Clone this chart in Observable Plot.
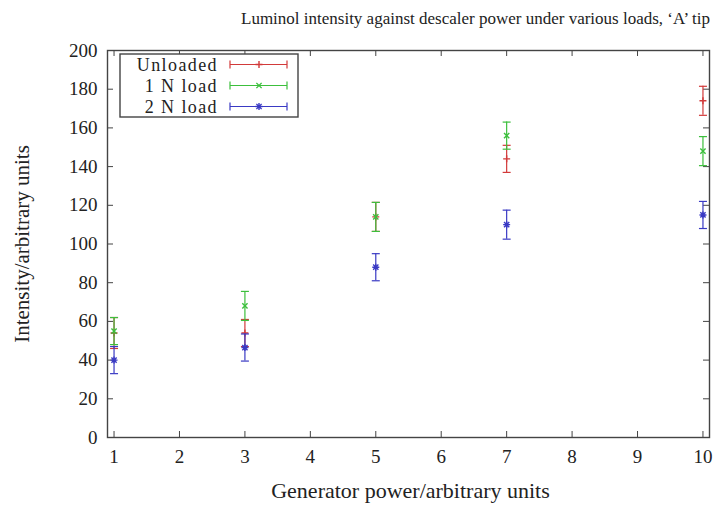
<!DOCTYPE html>
<html>
<head>
<meta charset="utf-8">
<script src="https://cdn.jsdelivr.net/npm/d3@7"></script>
<script src="https://cdn.jsdelivr.net/npm/@observablehq/plot@0.6"></script>
<style>
  html, body { margin: 0; padding: 0; background: #fff; }
</style>
</head>
<body>
<div id="chart"></div>
<script>
// ---- data ----
const powers = [1, 3, 5, 7, 10];
const seriesNames = ["Unloaded", "1 N load", "2 N load"];
const unloaded    = [54, 54, 114, 144, 174];
const unloadedErr = [8, 7, 7.5, 7, 7.5];
const load1       = [55, 68, 114, 156, 148];
const load1Err    = [7, 7.5, 7.5, 7, 7.5];
const load2       = [40, 46.5, 88, 110, 115];
const load2Err    = [7, 7, 7, 7.5, 7];
const xTicks = [1, 2, 3, 4, 5, 6, 7, 8, 9, 10];
const yTicks = [0, 20, 40, 60, 80, 100, 120, 140, 160, 180, 200];
const titleText = "Luminol intensity against descaler power under various loads, \u2018A\u2019 tip";
const xLabel = "Generator power/arbitrary units";
const yLabel = "Intensity/arbitrary units";

const colors = ["#d23a3a", "#3cbf3c", "#3a3ac4"];
const FONT = "'Liberation Serif', serif";

// ---- symbols ----
const capSym = {draw(ctx, size) { const r = Math.sqrt(size / Math.PI); ctx.moveTo(-r, 0); ctx.lineTo(r, 0); }};
const plusSym = {draw(ctx, size) { const r = Math.sqrt(size / Math.PI); ctx.moveTo(-r, 0); ctx.lineTo(r, 0); ctx.moveTo(0, -r); ctx.lineTo(0, r); }};
const timesSym = {draw(ctx, size) { const r = Math.sqrt(size / Math.PI) * 0.75; ctx.moveTo(-r, -r); ctx.lineTo(r, r); ctx.moveTo(-r, r); ctx.lineTo(r, -r); }};
const starSym = {draw(ctx, size) { const r = Math.sqrt(size / Math.PI); const q = r * 0.75;
  ctx.moveTo(-r, 0); ctx.lineTo(r, 0); ctx.moveTo(0, -r); ctx.lineTo(0, r);
  ctx.moveTo(-q, -q); ctx.lineTo(q, q); ctx.moveTo(-q, q); ctx.lineTo(q, -q); }};
const markerSyms = [plusSym, timesSym, starSym];

const vals = [unloaded, load1, load2];
const errs = [unloadedErr, load1Err, load2Err];
const rows = seriesNames.flatMap((s, i) => powers.map((p, j) => ({
  series: s, idx: i, x: p, y: vals[i][j], lo: vals[i][j] - errs[i][j], hi: vals[i][j] + errs[i][j]
})));

const W = 719, H = 506;
const mL = 107, mR = 10, mT = 50, mB = 69;
const innerW = W - mL - mR, innerH = H - mT - mB;
const tickLen = 6;

const seriesMarks = seriesNames.flatMap((s, i) => {
  const d = rows.filter(r => r.idx === i);
  return [
    Plot.ruleX(d, {x: "x", y1: "lo", y2: "hi", stroke: colors[i], strokeWidth: 1.2}),
    Plot.dot(d, {x: "x", y: "lo", symbol: capSym, r: 4, stroke: colors[i], fill: "none", strokeWidth: 1.2}),
    Plot.dot(d, {x: "x", y: "hi", symbol: capSym, r: 4, stroke: colors[i], fill: "none", strokeWidth: 1.2}),
    Plot.dot(d, {x: "x", y: "y", symbol: markerSyms[i], r: 3.5, stroke: colors[i], fill: "none", strokeWidth: 1.4})
  ];
});

const chart = Plot.plot({
  width: W, height: H,
  marginLeft: mL, marginRight: mR, marginTop: mT, marginBottom: mB,
  style: {fontFamily: FONT, fontSize: "19px", color: "#222", background: "#fff"},
  x: {domain: [0.9, 10.1], ticks: xTicks},
  y: {domain: [0, 200], ticks: yTicks},
  marks: [
    // inward ticks on all four sides
    Plot.ruleX(xTicks, {x: d => d, insetTop: innerH - tickLen, stroke: "#444"}),
    Plot.ruleX(xTicks, {x: d => d, insetBottom: innerH - tickLen, stroke: "#444"}),
    Plot.ruleY(yTicks, {y: d => d, insetRight: innerW - tickLen, stroke: "#444"}),
    Plot.ruleY(yTicks, {y: d => d, insetLeft: innerW - tickLen, stroke: "#444"}),
    Plot.axisX(xTicks, {tickSize: 0, tickPadding: 12, fontSize: 19, label: null}),
    Plot.axisY(yTicks, {tickSize: 0, tickPadding: 10, fontSize: 19, label: null}),
    ...seriesMarks,
    Plot.frame({stroke: "#444", strokeWidth: 1.4}),
    Plot.text([xLabel], {text: d => d, frameAnchor: "bottom", lineAnchor: "middle", textAnchor: "middle", dx: 2, dy: 53, fontSize: 22}),
    Plot.text([yLabel], {text: d => d, frameAnchor: "left", lineAnchor: "middle", textAnchor: "middle", rotate: -90, dx: -85, fontSize: 21}),
    Plot.text([titleText], {text: d => d, frameAnchor: "top", lineAnchor: "middle", textAnchor: "middle", dx: 67, dy: -32, fontSize: 17})
  ]
});

// legend box (drawn into the same svg)
const svg = d3.select(chart);
const lg = svg.append("g").attr("font-family", FONT).attr("font-size", 18).attr("letter-spacing", "1.4px");
lg.append("rect").attr("x", 120).attr("y", 54).attr("width", 178).attr("height", 63)
  .attr("fill", "#fff").attr("stroke", "#444").attr("stroke-width", 1.4);
seriesNames.forEach((s, i) => {
  const cy = 64.5 + i * 21;
  lg.append("text").attr("x", 218).attr("y", cy).attr("dy", "0.35em").attr("text-anchor", "end").attr("fill", "#222").text(s);
  const c = colors[i];
  lg.append("line").attr("x1", 230).attr("x2", 287).attr("y1", cy).attr("y2", cy).attr("stroke", c).attr("stroke-width", 1.2);
  lg.append("line").attr("x1", 230).attr("x2", 230).attr("y1", cy - 4).attr("y2", cy + 4).attr("stroke", c).attr("stroke-width", 1.2);
  lg.append("line").attr("x1", 287).attr("x2", 287).attr("y1", cy - 4).attr("y2", cy + 4).attr("stroke", c).attr("stroke-width", 1.2);
  lg.append("path").attr("transform", `translate(259,${cy})`)
    .attr("d", d3.symbol(markerSyms[i], Math.PI * 3.5 * 3.5)())
    .attr("stroke", c).attr("fill", "none").attr("stroke-width", 1.4);
});

document.getElementById("chart").appendChild(chart);
</script>
</body>
</html>
